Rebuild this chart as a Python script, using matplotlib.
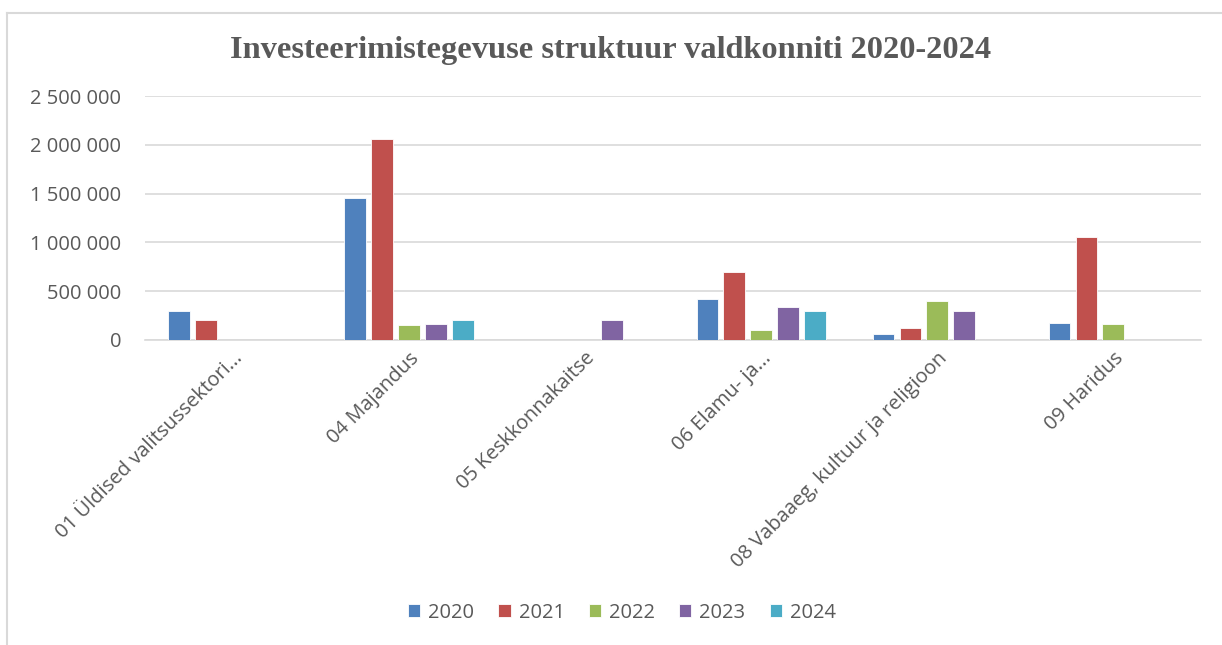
import matplotlib.pyplot as plt
import numpy as np
from matplotlib.lines import Line2D
from matplotlib.ticker import FuncFormatter

# --- data ---
categories = [
    "01 Üldised valitsussektori...",
    "04 Majandus",
    "05 Keskkonnakaitse",
    "06 Elamu- ja...",
    "08 Vabaaeg, kultuur ja religioon",
    "09 Haridus",
]
years = ["2020", "2021", "2022", "2023", "2024"]
v2020 = [297000, 1460000, 0, 417000, 65000, 174000]
v2021 = [202000, 2059000, 0, 701000, 127000, 1057000]
v2022 = [0, 150000, 0, 103000, 397000, 164000]
v2023 = [0, 161000, 202000, 335000, 297000, 0]
v2024 = [0, 202000, 0, 297000, 0, 0]
series = [v2020, v2021, v2022, v2023, v2024]
colors = ["#4F81BD", "#C0504D", "#9BBB59", "#8064A2", "#4BACC6"]

fig = plt.figure(figsize=(12.22, 6.45), dpi=100)
ax = fig.add_axes([0.1187, 0.473, 0.8643, 0.378])

x = np.arange(len(categories))
step = 0.153
width = 0.122
for i, (vals, col, yr) in enumerate(zip(series, colors, years)):
    ax.bar(x + (i - 2) * step, vals, width, color=col, edgecolor="white",
           linewidth=0.6, label=yr, zorder=3)

ax.set_xlim(-0.5, len(categories) - 0.5)
ax.set_ylim(0, 2500000)
ax.set_yticks(np.arange(0, 2500001, 500000))
ax.yaxis.set_major_formatter(FuncFormatter(lambda v, p: f"{int(v):,}".replace(",", " ")))
ax.grid(axis="y", color="#D9D9D9", linewidth=1.2, zorder=0)
for s in ["top", "right", "left"]:
    ax.spines[s].set_visible(False)
ax.spines["bottom"].set_color("#D9D9D9")
ax.spines["bottom"].set_linewidth(1.2)
ax.tick_params(axis="y", length=0, pad=17, labelsize=14.5, labelcolor="#595959")
ax.tick_params(axis="x", length=0, pad=6, labelsize=14.5, labelcolor="#595959")
ax.set_xticks(x)
ax.set_xticklabels(categories, rotation=45, ha="right", rotation_mode="anchor",
                   fontfamily="Open Sans")
for lab in ax.get_yticklabels():
    lab.set_fontfamily("Open Sans")

fig.text(0.5, 0.922, "Investeerimistegevuse struktuur valdkonniti 2020-2024",
         ha="center", va="center", fontsize=23.3, fontweight="bold",
         fontfamily="Liberation Serif", color="#595959")

leg = fig.legend(loc="center", bbox_to_anchor=(0.509, 0.05), ncol=5, frameon=False,
                 handlelength=0.6, handleheight=0.6, handletextpad=0.4,
                 columnspacing=1.2, prop={"family": "Open Sans", "size": 14.5})
for t in leg.get_texts():
    t.set_color("#595959")

# chart frame (top and left edges visible)
fig.add_artist(Line2D([7 / 1222, 1], [1 - 13 / 645, 1 - 13 / 645], color="#D9D9D9",
                      linewidth=1.5, transform=fig.transFigure))
fig.add_artist(Line2D([7 / 1222, 7 / 1222], [0, 1 - 13 / 645], color="#D9D9D9",
                      linewidth=1.5, transform=fig.transFigure))

fig.savefig("out.png", dpi=100, facecolor="white")
